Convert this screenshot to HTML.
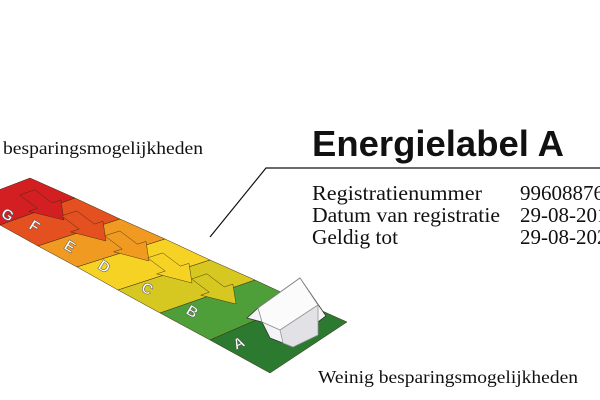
<!DOCTYPE html>
<html><head><meta charset="utf-8"><style>
html,body{margin:0;padding:0;background:#fff;width:600px;height:400px;overflow:hidden}
</style></head><body>
<svg width="600" height="400" viewBox="0 0 600 400" xmlns="http://www.w3.org/2000/svg">
<rect width="600" height="400" fill="#fff"/>
<g stroke="#3a2a10" stroke-width="0.5">
<polygon points="30,178 75,198 0,225 -38,204" fill="#d41f22"/>
<polygon points="75,198 120,219 38,246 0,225" fill="#e4501f"/>
<polygon points="120,219 165,239 77,267 38,246" fill="#f09a22"/>
<polygon points="165,239 210,260 118,290 77,267" fill="#f5d224"/>
<polygon points="210,260 255,280 160,313 118,290" fill="#d7c721"/>
<polygon points="255,280 300,301 210,340 160,313" fill="#4e9f39"/>
<polygon points="300,301 347,322 270,373 210,340" fill="#2c7a30"/>
</g>
<g stroke="#3a2a10" stroke-width="0.4">
<polygon transform="matrix(0.8,0.6,0.941,-0.339,48,208)" points="-26,-8 -4,-8 -4,-17 20,0 -4,17 -4,8 -26,8" fill="#d41f22"/>
<polygon transform="matrix(0.8,0.6,0.950,-0.313,90,229)" points="-26,-8 -4,-8 -4,-17 20,0 -4,17 -4,8 -26,8" fill="#e4501f"/>
<polygon transform="matrix(0.8,0.6,0.953,-0.303,133,249)" points="-26,-8 -4,-8 -4,-17 20,0 -4,17 -4,8 -26,8" fill="#f09a22"/>
<polygon transform="matrix(0.8,0.6,0.950,-0.310,176,271)" points="-26,-8 -4,-8 -4,-17 20,0 -4,17 -4,8 -26,8" fill="#f5d224"/>
<polygon transform="matrix(0.8,0.6,0.944,-0.328,220,292)" points="-26,-8 -4,-8 -4,-17 20,0 -4,17 -4,8 -26,8" fill="#d7c721"/>
</g>
<g fill="#fff" stroke="#555" stroke-width="0.5" font-family="Liberation Sans, sans-serif" font-weight="bold" font-size="15">
<text transform="translate(0,216) rotate(32)">G</text>
<text transform="translate(28,228) rotate(32)">F</text>
<text transform="translate(63,248) rotate(32)">E</text>
<text transform="translate(97,268) rotate(32)">D</text>
<text transform="translate(140,290) rotate(32)">C</text>
<text transform="translate(185,313) rotate(32)">B</text>
<text transform="translate(236,350) rotate(-25)">A</text>
</g>
<g stroke="#333" stroke-width="0.8" stroke-linejoin="round">
<polygon points="247,318 258,308 300,278 326,316 318,322 318,335 293,347 270,338 262,322" fill="#f4f4f6"/>
<polygon points="258,308 300,278 318,305 280,330 262,322" fill="#fbfbfc" stroke="#888"/>
<polygon points="280,330 318,305 318,335 293,347 283,343" fill="#e2e2e6" stroke="#999"/>
</g>
<polyline points="210,237 266,168 600,168" fill="none" stroke="#111" stroke-width="1.2"/>
<g font-family="Liberation Serif, serif" fill="#111">
<text x="3" y="154" font-size="18" textLength="200" lengthAdjust="spacingAndGlyphs">besparingsmogelijkheden</text>
<text x="318" y="383" font-size="18" textLength="260" lengthAdjust="spacingAndGlyphs">Weinig besparingsmogelijkheden</text>
<text x="312" y="200" font-size="21" textLength="170" lengthAdjust="spacingAndGlyphs">Registratienummer</text>
<text x="312" y="222" font-size="21" textLength="188" lengthAdjust="spacingAndGlyphs">Datum van registratie</text>
<text x="312" y="244" font-size="21" textLength="86" lengthAdjust="spacingAndGlyphs">Geldig tot</text>
<text x="520" y="200" font-size="21">99608876</text>
<text x="520" y="222" font-size="21">29-08-2017</text>
<text x="520" y="244" font-size="21">29-08-2027</text>
</g>
<text x="312" y="156" font-family="Liberation Sans, sans-serif" font-weight="bold" font-size="36" fill="#111" textLength="252" lengthAdjust="spacingAndGlyphs">Energielabel A</text>
</svg>
</body></html>
